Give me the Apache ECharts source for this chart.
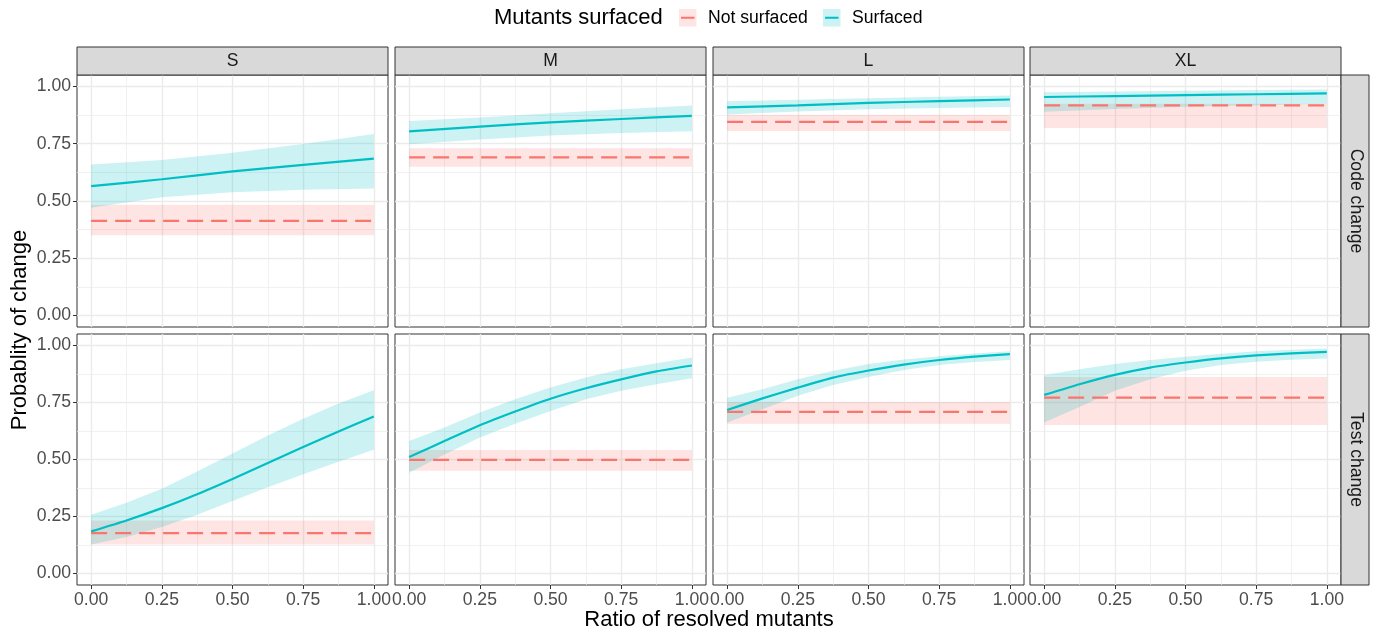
<!DOCTYPE html>
<html>
<head>
<meta charset="utf-8">
<script src="https://cdn.jsdelivr.net/npm/echarts@6/dist/echarts.min.js"></script>
<style>
  html, body { margin: 0; padding: 0; background: #fff; }
  #chart { width: 1379px; height: 633px; }
</style>
</head>
<body>
<div id="chart"></div>
<script>
const sizes = ['S', 'M', 'L', 'XL'];
const changes = ['Code change', 'Test change'];
const tickValues = [0, 0.25, 0.5, 0.75, 1];

// x positions the curves were read at
const xCode = [0, 0.25, 0.5, 0.75, 1];
const xTest = [0, 0.125, 0.25, 0.375, 0.5, 0.625, 0.75, 0.875, 1];

// Surfaced, code change row (S, M, L, XL)
const codeFit = [
  [0.565, 0.595, 0.629, 0.658, 0.685],
  [0.804, 0.825, 0.843, 0.858, 0.872],
  [0.909, 0.917, 0.928, 0.936, 0.943],
  [0.954, 0.958, 0.962, 0.966, 0.970]
];
const codeLow = [
  [0.470, 0.516, 0.538, 0.549, 0.555],
  [0.748, 0.768, 0.786, 0.797, 0.804],
  [0.878, 0.891, 0.900, 0.906, 0.910],
  [0.890, 0.902, 0.911, 0.918, 0.924]
];
const codeHigh = [
  [0.659, 0.679, 0.711, 0.749, 0.792],
  [0.849, 0.865, 0.883, 0.900, 0.917],
  [0.935, 0.942, 0.949, 0.955, 0.961],
  [0.975, 0.978, 0.981, 0.984, 0.987]
];

// Surfaced, test change row (S, M, L, XL)
const testFit = [
  [0.185, 0.233, 0.287, 0.348, 0.415, 0.485, 0.555, 0.623, 0.688],
  [0.511, 0.581, 0.650, 0.710, 0.766, 0.812, 0.851, 0.886, 0.912],
  [0.717, 0.768, 0.815, 0.859, 0.890, 0.916, 0.936, 0.951, 0.962],
  [0.783, 0.830, 0.871, 0.903, 0.925, 0.943, 0.956, 0.965, 0.972]
];
const testLow = [
  [0.127, 0.160, 0.204, 0.258, 0.318, 0.378, 0.435, 0.490, 0.543],
  [0.442, 0.522, 0.596, 0.657, 0.713, 0.764, 0.801, 0.830, 0.856],
  [0.662, 0.720, 0.779, 0.827, 0.862, 0.892, 0.914, 0.927, 0.936],
  [0.662, 0.730, 0.801, 0.852, 0.889, 0.914, 0.928, 0.937, 0.943]
];
const testHigh = [
  [0.258, 0.310, 0.372, 0.447, 0.526, 0.605, 0.679, 0.745, 0.803],
  [0.581, 0.640, 0.706, 0.764, 0.815, 0.859, 0.896, 0.922, 0.947],
  [0.771, 0.808, 0.852, 0.889, 0.918, 0.938, 0.953, 0.965, 0.974],
  [0.870, 0.896, 0.918, 0.936, 0.950, 0.963, 0.974, 0.981, 0.987]
];

// Not surfaced: flat estimates (S, M, L, XL)
const notCodeFit = [0.413, 0.690, 0.845, 0.917];
const notCodeLow = [0.351, 0.649, 0.806, 0.819];
const notCodeHigh = [0.484, 0.730, 0.877, 0.925];
const notTestFit = [0.177, 0.498, 0.709, 0.771];
const notTestLow = [0.128, 0.451, 0.657, 0.651];
const notTestHigh = [0.233, 0.542, 0.752, 0.862];

const FONT = '"Liberation Sans", Arial, sans-serif';
const RED = '#F8766D';
const TEAL = '#00BFC4';
const RED_FILL = 'rgba(248,118,109,0.2)';
const TEAL_FILL = 'rgba(0,191,196,0.2)';

// panel layout
const colLeft = [77, 395, 713, 1030];
const panelW = 311;
const rowTop = [75, 334];
const rowH = [252, 251];

const chart = echarts.init(document.getElementById('chart'));

const grids = [], xAxes = [], yAxes = [], series = [];

function tickLabel(v) {
  const q = v * 4;
  return Math.abs(q - Math.round(q)) < 1e-6 ? v.toFixed(2) : '';
}

function pairs(xs, ys) {
  return xs.map((x, i) => [x, ys[i]]);
}

// ribbon: one polygon through [x, low] and [x, high] of every row
function band(g, xs, lo, hi, fill) {
  return {
    type: 'custom', xAxisIndex: g, yAxisIndex: g, silent: true, z: 1,
    data: xs.map((x, i) => [x, lo[i], hi[i]]),
    encode: { x: 0, y: [1, 2] },
    renderItem: function (params, api) {
      if (params.dataIndexInside !== 0) return null;
      const n = params.dataInsideLength;
      const upper = [], lower = [];
      for (let i = 0; i < n; i++) {
        const x = api.value(0, i);
        upper.push(api.coord([x, api.value(2, i)]));
        lower.push(api.coord([x, api.value(1, i)]));
      }
      return {
        type: 'polygon',
        shape: { points: upper.concat(lower.reverse()) },
        style: { fill: fill, stroke: null }
      };
    }
  };
}

function axisFor(g, showTicks, margin) {
  return {
    type: 'value', gridIndex: g, min: -0.05, max: 1.05,
    minInterval: 0.25, maxInterval: 0.25,
    axisLine: { show: false, onZero: false },
    axisTick: { show: showTicks, length: 4, customValues: tickValues, lineStyle: { color: '#333333' } },
    axisLabel: {
      show: showTicks, customValues: tickValues, margin: margin, formatter: tickLabel,
      color: '#4d4d4d', fontSize: 17.6, fontFamily: FONT
    },
    splitLine: { show: true, lineStyle: { color: '#ebebeb', width: 1.4 } },
    minorTick: { show: false, splitNumber: 2 },
    minorSplitLine: { show: true, lineStyle: { color: '#ebebeb', width: 0.7 } }
  };
}

for (let r = 0; r < 2; r++) {
  for (let c = 0; c < 4; c++) {
    const g = r * 4 + c;
    grids.push({
      left: colLeft[c], top: rowTop[r], width: panelW, height: rowH[r],
      show: true, borderColor: '#333333', borderWidth: 1, backgroundColor: '#fff'
    });
    xAxes.push(axisFor(g, r === 1, 6));
    yAxes.push(axisFor(g, c === 0, 6));

    const xs = r === 0 ? xCode : xTest;
    const fit = r === 0 ? codeFit[c] : testFit[c];
    const lo = r === 0 ? codeLow[c] : testLow[c];
    const hi = r === 0 ? codeHigh[c] : testHigh[c];
    const nFit = r === 0 ? notCodeFit[c] : notTestFit[c];
    const nLo = r === 0 ? notCodeLow[c] : notTestLow[c];
    const nHi = r === 0 ? notCodeHigh[c] : notTestHigh[c];

    series.push(band(g, [0, 1], [nLo, nLo], [nHi, nHi], RED_FILL));
    series.push(band(g, xs, lo, hi, TEAL_FILL));
    series.push({
      name: 'Not surfaced', type: 'line', xAxisIndex: g, yAxisIndex: g,
      data: [[0, nFit], [1, nFit]], symbol: 'none', silent: true,
      lineStyle: { color: RED, width: 2.2, type: [16, 8] }, z: 3
    });
    series.push({
      name: 'Surfaced', type: 'line', xAxisIndex: g, yAxisIndex: g,
      data: pairs(xs, fit), symbol: 'none', smooth: 0.2, silent: true,
      lineStyle: { color: TEAL, width: 2.2 }, z: 3
    });
  }
}

// facet strips, titles and legend
const graphic = [];
sizes.forEach((s, c) => {
  graphic.push({
    type: 'rect', shape: { x: colLeft[c], y: 47, width: panelW, height: 28 },
    style: { fill: '#d9d9d9', stroke: '#333333', lineWidth: 1 }, z: 10
  });
  graphic.push({
    type: 'text', x: colLeft[c] + panelW / 2, y: 61.5, z: 11,
    style: { text: s, fill: '#1a1a1a', fontSize: 17.6, fontFamily: FONT, align: 'center', verticalAlign: 'middle' }
  });
});
changes.forEach((t, r) => {
  graphic.push({
    type: 'rect', shape: { x: 1341, y: rowTop[r], width: 28, height: rowH[r] },
    style: { fill: '#d9d9d9', stroke: '#333333', lineWidth: 1 }, z: 10
  });
  graphic.push({
    type: 'text', x: 1355.5, y: rowTop[r] + rowH[r] / 2, rotation: -Math.PI / 2, z: 11,
    style: { text: t, fill: '#1a1a1a', fontSize: 17.6, fontFamily: FONT, align: 'center', verticalAlign: 'middle' }
  });
});
graphic.push({
  type: 'text', x: 20, y: 330, rotation: Math.PI / 2, z: 11,
  style: { text: 'Probablity of change', fill: '#000', fontSize: 22, fontFamily: FONT, align: 'center', verticalAlign: 'middle' }
});
graphic.push({
  type: 'text', x: 709, y: 620, z: 11,
  style: { text: 'Ratio of resolved mutants', fill: '#000', fontSize: 22, fontFamily: FONT, align: 'center', verticalAlign: 'middle' }
});
graphic.push({
  type: 'text', x: 494, y: 18, z: 11,
  style: { text: 'Mutants surfaced', fill: '#000', fontSize: 22, fontFamily: FONT, align: 'left', verticalAlign: 'middle' }
});
const keys = [
  { label: 'Not surfaced', x: 679, tx: 708, fill: RED_FILL, color: RED },
  { label: 'Surfaced', x: 823, tx: 852, fill: TEAL_FILL, color: TEAL }
];
keys.forEach(k => {
  graphic.push({ type: 'rect', shape: { x: k.x, y: 9, width: 17.5, height: 17.5 }, style: { fill: k.fill }, z: 11 });
  graphic.push({
    type: 'line', shape: { x1: k.x + 2, y1: 17.75, x2: k.x + 15.5, y2: 17.75 },
    style: { stroke: k.color, lineWidth: 2 }, z: 12
  });
  graphic.push({
    type: 'text', x: k.tx, y: 18, z: 11,
    style: { text: k.label, fill: '#000', fontSize: 17.6, fontFamily: FONT, align: 'left', verticalAlign: 'middle' }
  });
});

chart.setOption({
  animation: false,
  backgroundColor: '#fff',
  grid: grids,
  xAxis: xAxes,
  yAxis: yAxes,
  series: series,
  graphic: graphic
});
</script>
</body>
</html>
